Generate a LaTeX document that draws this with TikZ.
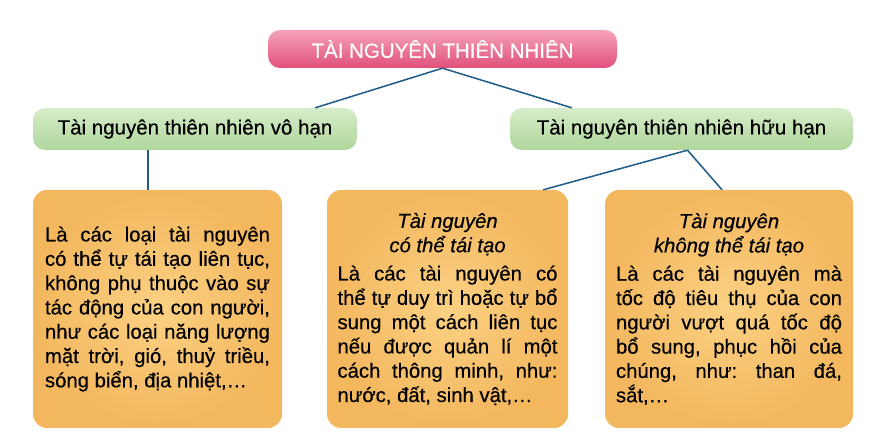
\documentclass[tikz,border=0pt]{standalone}
\usepackage{fontspec}
\setmainfont{Liberation Sans}[FakeBold=0.4]
\usepackage{xcolor}
\usepackage{tikz}
\usetikzlibrary{shapes}
\usetikzlibrary{positioning}
\definecolor{pinkTop}{HTML}{F5A3B8}
\definecolor{pinkBot}{HTML}{E0507A}
\definecolor{greenTop}{HTML}{D6EDC9}
\definecolor{greenBot}{HTML}{AFD69C}
\definecolor{orangeIn}{HTML}{FBD183}
\definecolor{orangeOut}{HTML}{F3B75E}
\definecolor{lineBlue}{HTML}{1D5A86}
\frenchspacing
\tikzset{
    titlenode/.style = {rectangle, rounded corners=12pt, top color=pinkTop, bottom color=pinkBot, text=white, minimum width=349pt, minimum height=38pt, font=\fontsize{20.5}{22}\selectfont},
    groupnode/.style = {rectangle, rounded corners=12pt, top color=greenTop, bottom color=greenBot, text=black, minimum height=42pt, font=\fontsize{20.5}{22}\selectfont},
    boxnode/.style = {rectangle, rounded corners=14pt, inner color=orangeIn, outer color=orangeOut, inner sep=0pt, minimum height=238pt, align=justify, font=\fontsize{20.3}{24.3}\selectfont\frenchspacing},
}
\begin{document}
\begin{tikzpicture}[
	x=1pt,
	y=-1pt,
	conn/.style = {-, line width=1.5pt, lineBlue}
]
\useasboundingbox (0,0) rectangle (889,443);
\node[titlenode] at (442.5,49) (title) {TÀI NGUYÊN THIÊN NHIÊN};
\node[groupnode, minimum width=324pt] at (195,129) (vohan) {Tài nguyên thiên nhiên vô hạn};
\node[groupnode, minimum width=343pt] at (681.5,129) (huuhan) {Tài nguyên thiên nhiên hữu hạn};
%
\node[boxnode, minimum width=249pt, text width=225pt] at (157.5,309) (vohanbox) {Là các loại tài nguyên\linebreak
có thể tự tái tạo liên tục,\linebreak
không phụ thuộc vào sự\linebreak
tác động của con người,\linebreak
như các loại năng lượng\linebreak
mặt trời, gió, thuỷ triều,\linebreak
sóng biển, địa nhiệt,…};
\node[boxnode, minimum width=241pt, text width=220pt] at (447.5,309) (taitao) {{\centering\itshape Tài nguyên\\có thể tái tạo\par}\vspace{4pt}
Là các tài nguyên có\linebreak
thể tự duy trì hoặc tự bổ\linebreak
sung một cách liên tục\linebreak
nếu được quản lí một\linebreak
cách thông minh, như:\linebreak
nước, đất, sinh vật,…};
\node[boxnode, minimum width=248pt, text width=226pt] at (729,309) (khongtaitao) {{\centering\itshape Tài nguyên\\không thể tái tạo\par}\vspace{4pt}
Là các tài nguyên mà\linebreak
tốc độ tiêu thụ của con\linebreak
người vượt quá tốc độ\linebreak
bổ sung, phục hồi của\linebreak
chúng, như: than đá,\linebreak
sắt,…};
%
\draw[conn] (title.south) -- ([xshift=-42pt]vohan.north east);
\draw[conn] (title.south) -- ([xshift=62pt]huuhan.north west);
\draw[conn] ([xshift=-47pt]vohan.south) -- ([xshift=-9.5pt]vohanbox.north);
\draw[conn] ([xshift=6pt]huuhan.south) -- ([xshift=-25pt]taitao.north east);
\draw[conn] ([xshift=6pt]huuhan.south) -- ([xshift=-7pt]khongtaitao.north);
\end{tikzpicture}
\end{document}
